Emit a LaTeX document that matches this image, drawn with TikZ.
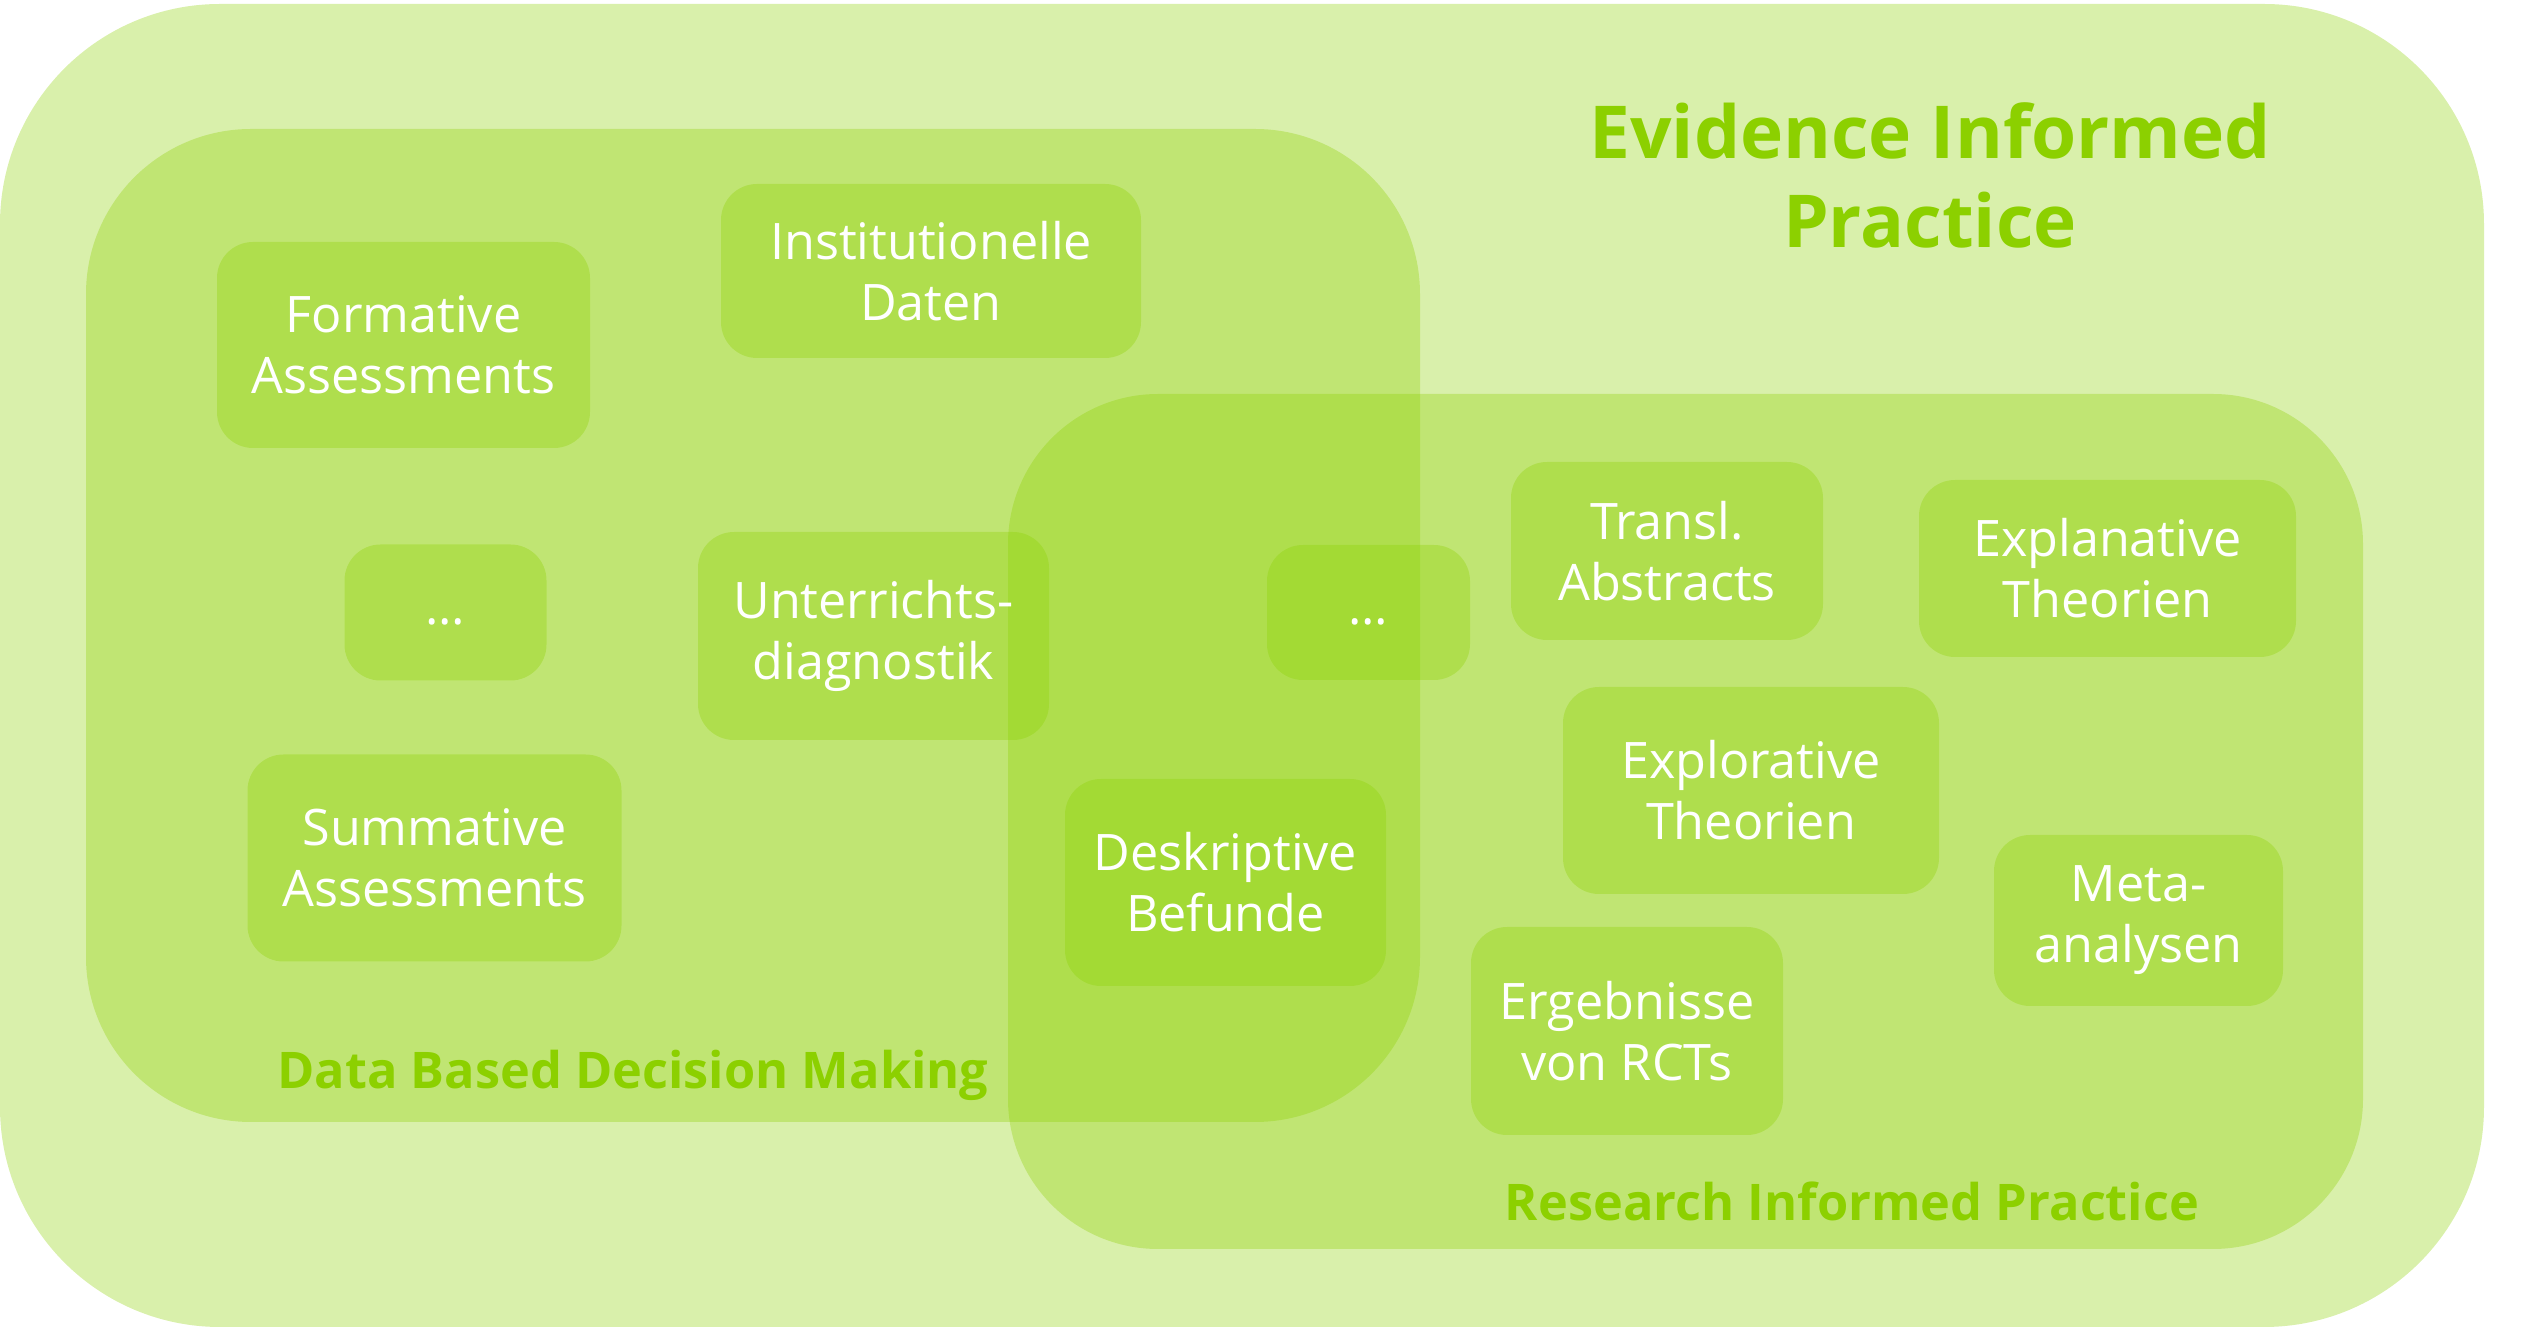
\documentclass[tikz,border=0pt]{standalone}
\usepackage{fontspec}
\setmainfont{Open Sans}
\definecolor{eipgreen}{RGB}{140,208,0}
\begin{document}
\begin{tikzpicture}[x=0.3pt, y=-0.3pt,
  layer/.style={fill=eipgreen, fill opacity=0.33, text opacity=1, draw=none, inner sep=0pt, outer sep=0pt, rectangle},
  item/.style={layer, rounded corners=10.8pt, text=white, align=center, font=\fontsize{15.1}{18.3}\selectfont},
  grouplabel/.style={text=eipgreen, inner sep=0pt, font=\bfseries\fontsize{15.15}{18}\selectfont},
  titlelabel/.style={text=eipgreen, inner sep=0pt, align=center, font=\bfseries\fontsize{21.9}{26.7}\selectfont}]
\useasboundingbox (0,0) rectangle (2534,1329);
% containers
\node[layer, rounded corners=66pt, minimum width=745.2pt, minimum height=396.9pt] (eip) at (1242,665.5) {};
\node[layer, rounded corners=49.5pt, minimum width=400.2pt, minimum height=297.9pt] (dbdm) at (753,625.5) {};
\node[layer, rounded corners=45pt, minimum width=406.5pt, minimum height=256.5pt] (rip) at (1685.5,821.5) {};
% labels
\node[titlelabel] (eiptitle) at (1930,175) {Evidence Informed\\Practice};
\node[grouplabel, anchor=base] (dbdmlabel) at (633,1089) {Data Based Decision Making};
\node[grouplabel, anchor=base] (riplabel) at (1852,1221) {Research Informed Practice};
% items
\node[item, minimum width=111.9pt, minimum height=61.8pt] (form) at (403.5,345) {Formative\\Assessments};
\node[item, minimum width=126pt, minimum height=52.2pt] (inst) at (931,271) {Institutionelle\\Daten};
\node[item, minimum width=60.6pt, minimum height=40.8pt] (dotsl) at (445.5,612.5) {\vphantom{Ag}…};
\node[item, minimum width=105.3pt, minimum height=62.4pt] (unt) at (873.5,636) {\raisebox{0pt}[\height][0pt]{}Unterrichts-\\diagnostik\vphantom{g}};
\node[item, minimum width=112.2pt, minimum height=62.1pt] (summ) at (434.5,858) {Summative\\Assessments};
\node[item, minimum width=60.9pt, minimum height=40.5pt] (dotsr) at (1368.5,612.5) {\vphantom{Ag}…};
\node[item, minimum width=96.3pt, minimum height=62.1pt] (desk) at (1225.5,882.5) {Deskriptive\\Befunde};
\node[item, minimum width=93.6pt, minimum height=53.4pt] (transl) at (1667,551) {Transl.\\Abstracts};
\node[item, minimum width=113.1pt, minimum height=53.1pt] (expl) at (2107.5,568.5) {Explanative\\Theorien};
\node[item, minimum width=112.8pt, minimum height=62.1pt] (explor) at (1751,790.5) {Explorative\\Theorien};
\node[item, minimum width=86.7pt, minimum height=51.3pt] (meta) at (2138.5,920.5) {Meta-\\analysen};
\node[item, minimum width=93.6pt, minimum height=62.4pt] (rct) at (1627,1031) {Ergebnisse\\von RCTs};
\end{tikzpicture}
\end{document}
